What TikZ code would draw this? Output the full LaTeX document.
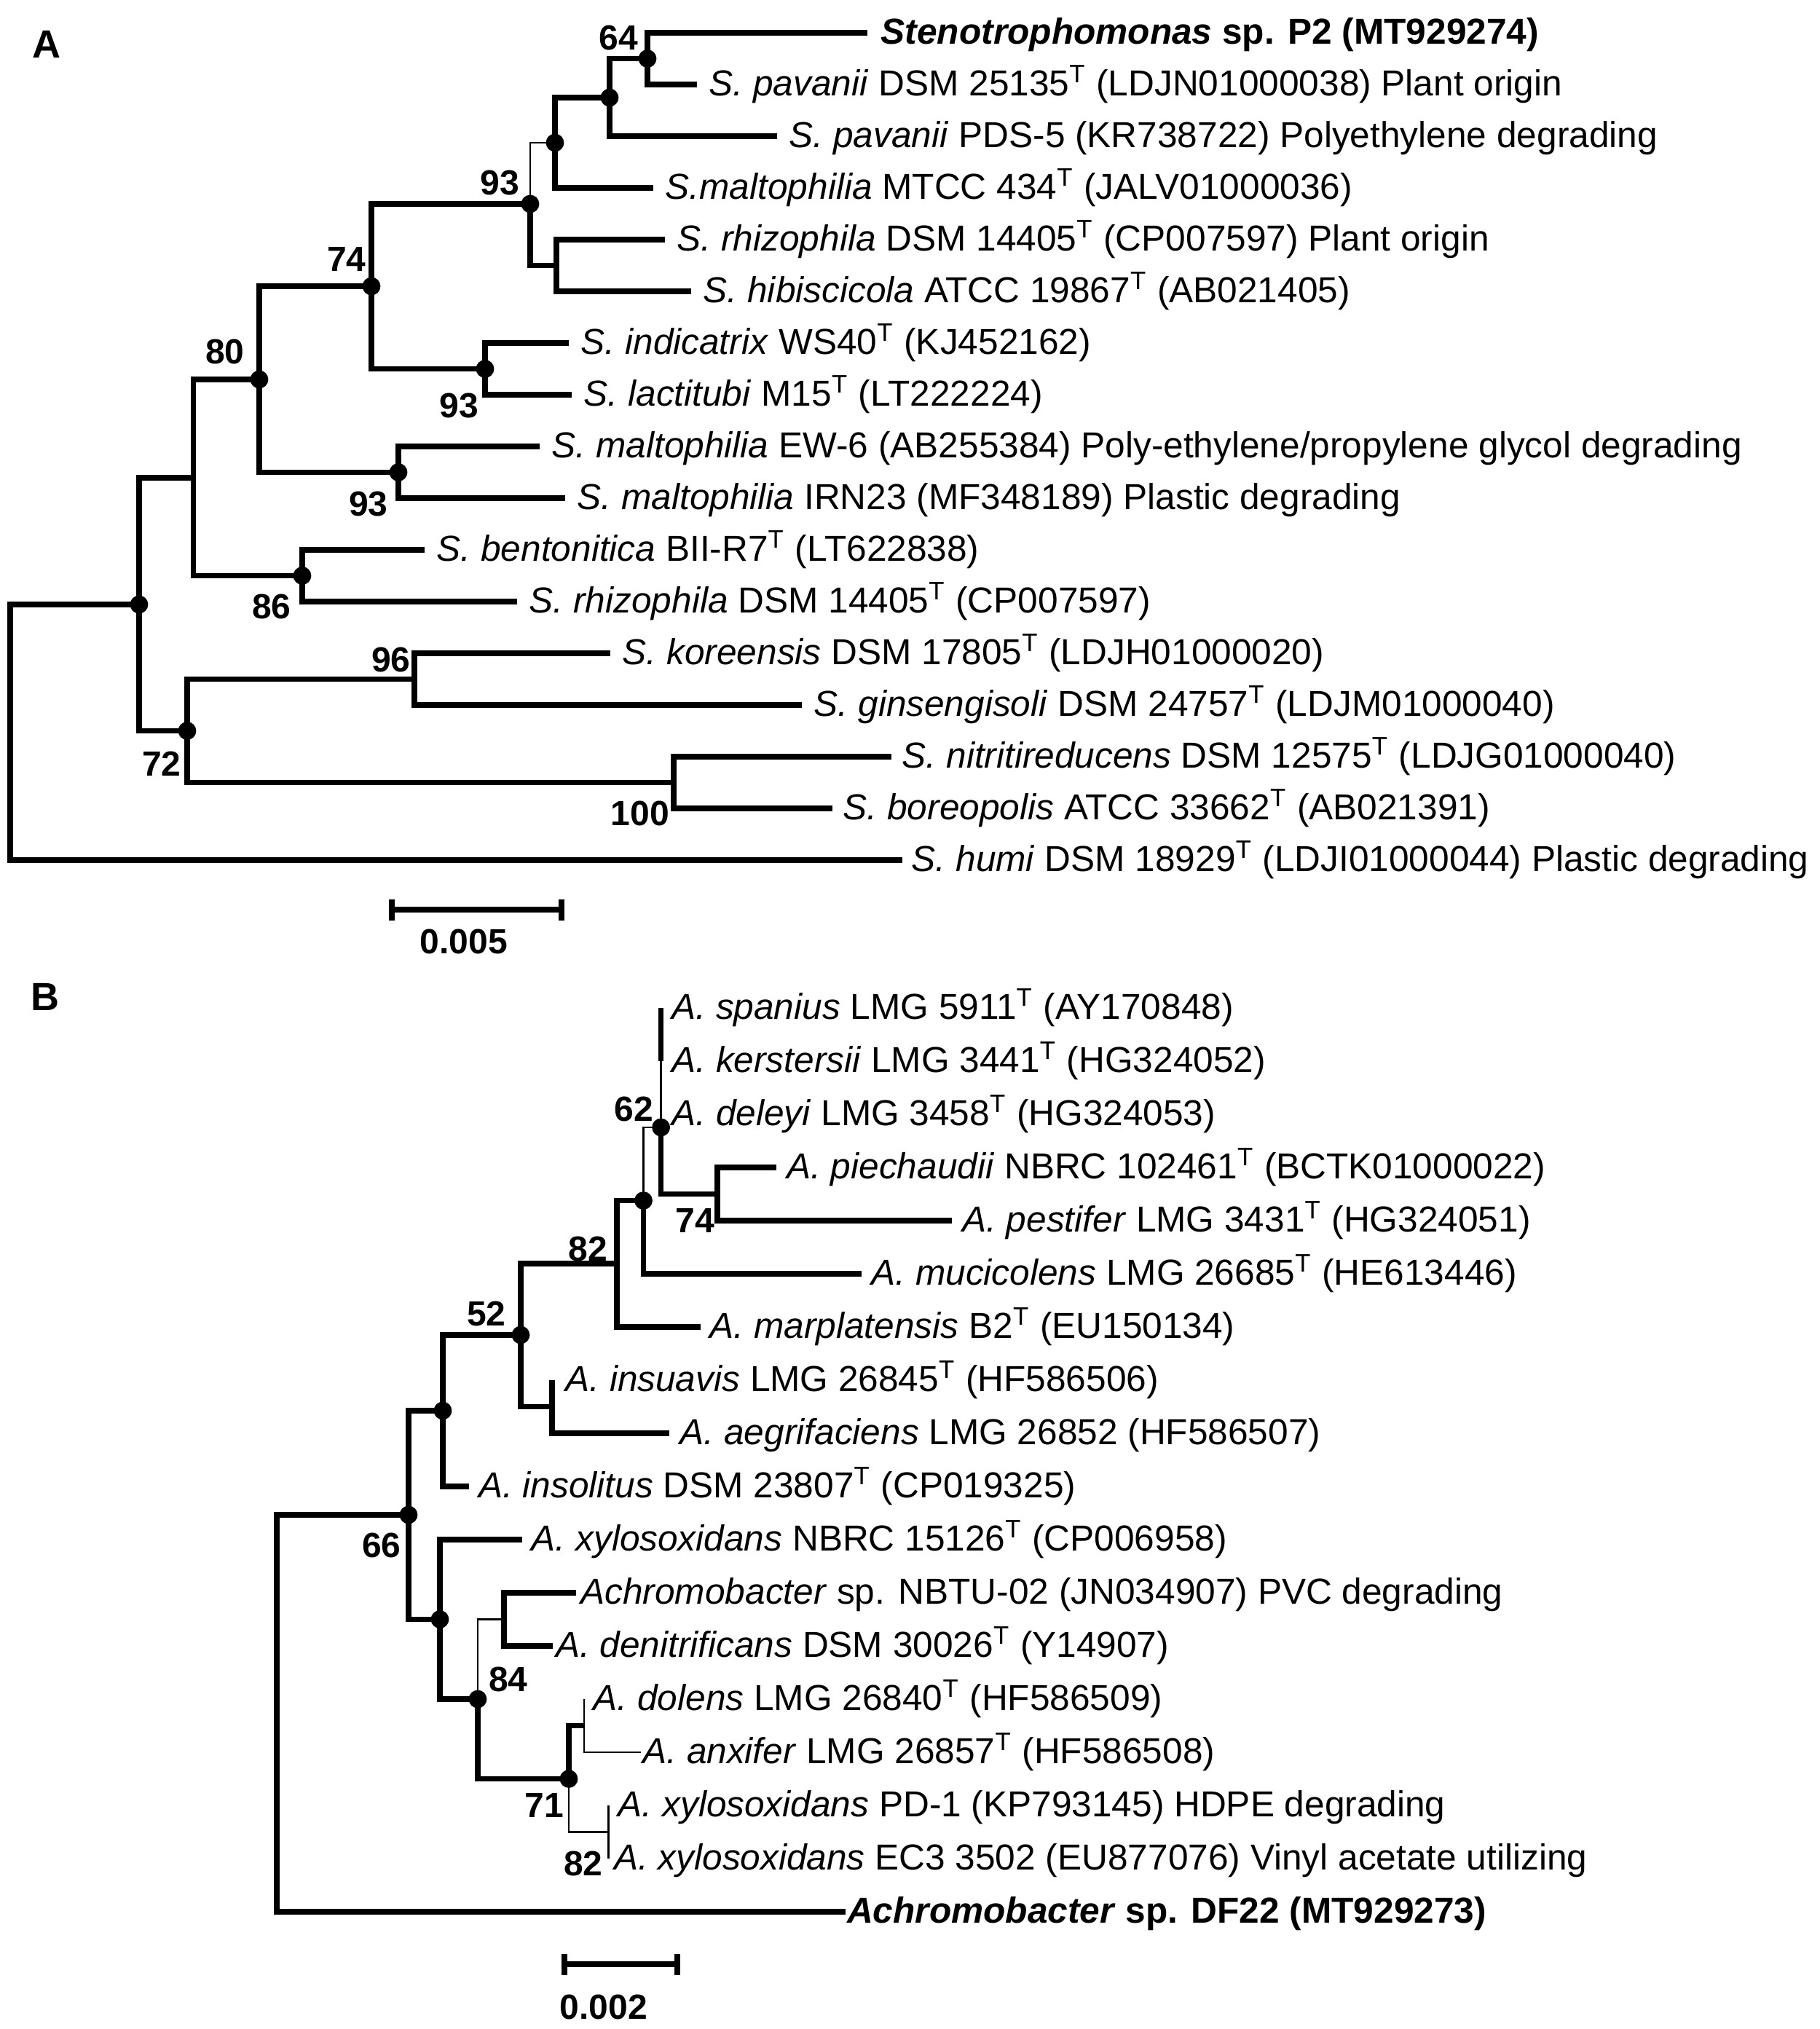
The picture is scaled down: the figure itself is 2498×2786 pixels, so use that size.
\documentclass[tikz,border=0pt]{standalone}
\usepackage{fontspec}
\setmainfont{Liberation Sans}
\usetikzlibrary{positioning}

\tikzset{
  br/.style={line width=1.8pt, line join=miter},
  thinbr/.style={line width=0.6pt, line join=miter},
  leaf/.style={inner sep=0pt, font=\fontsize{12.4}{14}\selectfont, text height=7.6pt, text depth=0pt},
  boot/.style={inner sep=0pt, font=\bfseries\fontsize{12}{14}\selectfont, text height=8.6pt, text depth=0pt},
  panel/.style={inner sep=0pt, font=\bfseries\fontsize{13.5}{16}\selectfont, text height=9.7pt, text depth=0pt},
  dot/.style={circle, fill, inner sep=0pt, minimum size=6.2pt},
}

\begin{document}
\begin{tikzpicture}[x=0.25pt, y=-0.25pt]
\useasboundingbox (0,0) rectangle (2498,2786);

\node (panel_a) at (64,60) [panel] {A};

\coordinate (a_n64) at (889,80.5);
\coordinate (a_pav) at (837,134);
\coordinate (a_mal) at (762,196);
\coordinate (a_n93a) at (728,280);
\coordinate (a_rhi) at (764,364.5);
\coordinate (a_n93b) at (666,506.5);
\coordinate (a_n74) at (510,393);
\coordinate (a_n93c) at (547,648.5);
\coordinate (a_n80) at (356,521);
\coordinate (a_n86) at (415,790.5);
\coordinate (a_mid) at (265.5,656);
\coordinate (a_n96) at (569,932.5);
\coordinate (a_n100) at (925,1074.5);
\coordinate (a_n72) at (257,1003.5);
\coordinate (a_in) at (191,830);
\coordinate (a_root) at (14,1005);

\coordinate (a_tip1) at (1191,45);
\coordinate (a_tip2) at (957,116);
\coordinate (a_tip3) at (1067,187);
\coordinate (a_tip4) at (897,258);
\coordinate (a_tip5) at (913,329);
\coordinate (a_tip6) at (949,400);
\coordinate (a_tip7) at (781,471);
\coordinate (a_tip8) at (785,542);
\coordinate (a_tip9) at (741,613);
\coordinate (a_tip10) at (776,684);
\coordinate (a_tip11) at (583,755);
\coordinate (a_tip12) at (710,826);
\coordinate (a_tip13) at (838,897);
\coordinate (a_tip14) at (1101,968);
\coordinate (a_tip15) at (1224,1039);
\coordinate (a_tip16) at (1143,1110);
\coordinate (a_tip17) at (1239,1181);

\node (a_txt1) at (a_tip1) [leaf, right=4.5pt] {\textbf{\textit{Stenotrophomonas} sp. P2 (MT929274)}};
\node (a_txt2) at (a_tip2) [leaf, right=4pt] {\textit{S. pavanii} DSM 25135\textsuperscript{T} (LDJN01000038) Plant origin};
\node (a_txt3) at (a_tip3) [leaf, right=4pt] {\textit{S. pavanii} PDS-5 (KR738722) Polyethylene degrading};
\node (a_txt4) at (a_tip4) [leaf, right=4pt] {\textit{S.maltophilia} MTCC 434\textsuperscript{T} (JALV01000036)};
\node (a_txt5) at (a_tip5) [leaf, right=4pt] {\textit{S. rhizophila} DSM 14405\textsuperscript{T} (CP007597) Plant origin};
\node (a_txt6) at (a_tip6) [leaf, right=4pt] {\textit{S. hibiscicola} ATCC 19867\textsuperscript{T} (AB021405)};
\node (a_txt7) at (a_tip7) [leaf, right=4pt] {\textit{S. indicatrix} WS40\textsuperscript{T} (KJ452162)};
\node (a_txt8) at (a_tip8) [leaf, right=4pt] {\textit{S. lactitubi} M15\textsuperscript{T} (LT222224)};
\node (a_txt9) at (a_tip9) [leaf, right=4pt] {\textit{S. maltophilia} EW-6 (AB255384) Poly-ethylene/propylene glycol degrading};
\node (a_txt10) at (a_tip10) [leaf, right=4pt] {\textit{S. maltophilia} IRN23 (MF348189) Plastic degrading};
\node (a_txt11) at (a_tip11) [leaf, right=4pt] {\textit{S. bentonitica} BII-R7\textsuperscript{T} (LT622838)};
\node (a_txt12) at (a_tip12) [leaf, right=4pt] {\textit{S. rhizophila} DSM 14405\textsuperscript{T} (CP007597)};
\node (a_txt13) at (a_tip13) [leaf, right=4pt] {\textit{S. koreensis} DSM 17805\textsuperscript{T} (LDJH01000020)};
\node (a_txt14) at (a_tip14) [leaf, right=4pt] {\textit{S. ginsengisoli} DSM 24757\textsuperscript{T} (LDJM01000040)};
\node (a_txt15) at (a_tip15) [leaf, right=3.5pt] {\textit{S. nitritireducens} DSM 12575\textsuperscript{T} (LDJG01000040)};
\node (a_txt16) at (a_tip16) [leaf, right=3.5pt] {\textit{S. boreopolis} ATCC 33662\textsuperscript{T} (AB021391)};
\node (a_txt17) at (a_tip17) [leaf, right=3pt] {\textit{S. humi} DSM 18929\textsuperscript{T} (LDJI01000044) Plastic degrading};

\draw [br] (a_tip1) -| (a_n64) |- (a_tip2);
\draw [br] (a_n64) -| (a_pav) |- (a_tip3);
\draw [br] (a_pav) -| (a_mal) |- (a_tip4);
\draw [thinbr] (a_mal) -| (a_n93a);
\draw [br] (a_n93a) |- (a_rhi);
\draw [br] (a_tip5) -| (a_rhi) |- (a_tip6);
\draw [br] (a_n93a) -| (a_n74) |- (a_n93b);
\draw [br] (a_tip7) -| (a_n93b) |- (a_tip8);
\draw [br] (a_n74) -| (a_n80) |- (a_n93c);
\draw [br] (a_tip9) -| (a_n93c) |- (a_tip10);
\draw [br] (a_n80) -| (a_mid) |- (a_n86);
\draw [br] (a_tip11) -| (a_n86) |- (a_tip12);
\draw [br] (a_mid) -| (a_in) |- (a_n72);
\draw [br] (a_n96) -| (a_n72) |- (a_n100);
\draw [br] (a_tip13) -| (a_n96) |- (a_tip14);
\draw [br] (a_tip15) -| (a_n100) |- (a_tip16);
\draw [br] (a_in) -| (a_root) |- (a_tip17);

\node (a_d64) at (a_n64) [dot] {};
\node (a_dpav) at (a_pav) [dot] {};
\node (a_dmal) at (a_mal) [dot] {};
\node (a_d93a) at (a_n93a) [dot] {};
\node (a_d74) at (a_n74) [dot] {};
\node (a_d93b) at (a_n93b) [dot] {};
\node (a_d80) at (a_n80) [dot] {};
\node (a_d93c) at (a_n93c) [dot] {};
\node (a_d86) at (a_n86) [dot] {};
\node (a_din) at (a_in) [dot] {};
\node (a_d72) at (a_n72) [dot] {};

\node (a_b64) at (849,51) [boot] {64};
\node (a_b93a) at (686,250) [boot] {93};
\node (a_b74) at (476,355) [boot] {74};
\node (a_b80) at (309,482) [boot] {80};
\node (a_b93b) at (630,556) [boot] {93};
\node (a_b93c) at (506,691) [boot] {93};
\node (a_b86) at (373,832) [boot] {86};
\node (a_b96) at (537,905) [boot] {96};
\node (a_b72) at (222,1048) [boot] {72};
\node (a_b100) at (879,1116) [boot] {100};

\coordinate (a_bar1) at (538,1249);
\coordinate (a_bar2) at (771,1249);
\draw [br] (a_bar1) -- (a_bar2);
\draw [br] (a_bar1) ++(0,-14.5) -- ++(0,29);
\draw [br] (a_bar2) ++(0,-14.5) -- ++(0,29);
\node (a_scale) at (637,1292) [boot] {0.005};

\node (panel_b) at (62,1368) [panel] {B};

\coordinate (b_z) at (907.6,1457);
\coordinate (b_n62) at (907.6,1548);
\coordinate (b_n74) at (985,1639.5);
\coordinate (b_muc) at (883.5,1648.5);
\coordinate (b_n82) at (847,1735);
\coordinate (b_ins) at (758,1931.5);
\coordinate (b_n52) at (715,1833);
\coordinate (b_iso) at (608,1937);
\coordinate (b_den) at (692,2223.5);
\coordinate (b_dol) at (802,2369.5);
\coordinate (b_n82b) at (835.6,2515.5);
\coordinate (b_n71) at (781,2442.5);
\coordinate (b_n84) at (656,2333);
\coordinate (b_xyl) at (604,2223.5);
\coordinate (b_n66) at (561,2080);
\coordinate (b_root) at (380,2352.5);

\coordinate (b_tip1) at (907.6,1384);
\coordinate (b_tip2) at (907.6,1457);
\coordinate (b_tip3) at (907.6,1530);
\coordinate (b_tip4) at (1065.5,1603);
\coordinate (b_tip5) at (1306.5,1676);
\coordinate (b_tip6) at (1183,1749);
\coordinate (b_tip7) at (962,1822);
\coordinate (b_tip8) at (758,1895);
\coordinate (b_tip9) at (919,1968);
\coordinate (b_tip10) at (644.4,2041);
\coordinate (b_tip11) at (717,2114);
\coordinate (b_tip12) at (791,2187);
\coordinate (b_tip13) at (759,2260);
\coordinate (b_tip14) at (802,2333);
\coordinate (b_tip15) at (880,2406);
\coordinate (b_tip16) at (835.6,2479);
\coordinate (b_tip17) at (835.6,2552);
\coordinate (b_tip18) at (1161,2625);

\node (b_txt1) at (b_tip1) [leaf, right=3.5pt] {\textit{A. spanius} LMG 5911\textsuperscript{T} (AY170848)};
\node (b_txt2) at (b_tip2) [leaf, right=3.5pt] {\textit{A. kerstersii} LMG 3441\textsuperscript{T} (HG324052)};
\node (b_txt3) at (b_tip3) [leaf, right=3.5pt] {\textit{A. deleyi} LMG 3458\textsuperscript{T} (HG324053)};
\node (b_txt4) at (b_tip4) [leaf, right=3.5pt] {\textit{A. piechaudii} NBRC 102461\textsuperscript{T} (BCTK01000022)};
\node (b_txt5) at (b_tip5) [leaf, right=3.5pt] {\textit{A. pestifer} LMG 3431\textsuperscript{T} (HG324051)};
\node (b_txt6) at (b_tip6) [leaf, right=3.2pt] {\textit{A. mucicolens} LMG 26685\textsuperscript{T} (HE613446)};
\node (b_txt7) at (b_tip7) [leaf, right=3pt] {\textit{A. marplatensis} B2\textsuperscript{T} (EU150134)};
\node (b_txt8) at (b_tip8) [leaf, right=4.4pt] {\textit{A. insuavis} LMG 26845\textsuperscript{T} (HF586506)};
\node (b_txt9) at (b_tip9) [leaf, right=3.5pt] {\textit{A. aegrifaciens} LMG 26852 (HF586507)};
\node (b_txt10) at (b_tip10) [leaf, right=3pt] {\textit{A. insolitus} DSM 23807\textsuperscript{T} (CP019325)};
\node (b_txt11) at (b_tip11) [leaf, right=3pt] {\textit{A. xylosoxidans} NBRC 15126\textsuperscript{T} (CP006958)};
\node (b_txt12) at (b_tip12) [leaf, right=1.4pt] {\textit{Achromobacter} sp. NBTU-02 (JN034907) PVC degrading};
\node (b_txt13) at (b_tip13) [leaf, right=0.8pt] {\textit{A. denitrificans} DSM 30026\textsuperscript{T} (Y14907)};
\node (b_txt14) at (b_tip14) [leaf, right=3pt] {\textit{A. dolens} LMG 26840\textsuperscript{T} (HF586509)};
\node (b_txt15) at (b_tip15) [leaf, right=0.4pt] {\textit{A. anxifer} LMG 26857\textsuperscript{T} (HF586508)};
\node (b_txt16) at (b_tip16) [leaf, right=3.1pt] {\textit{A. xylosoxidans} PD-1 (KP793145) HDPE degrading};
\node (b_txt17) at (b_tip17) [leaf, right=1.7pt] {\textit{A. xylosoxidans} EC3 3502 (EU877076) Vinyl acetate utilizing};
\node (b_txt18) at (b_tip18) [leaf, right=0.3pt] {\textbf{\textit{Achromobacter} sp. DF22 (MT929273)}};

\draw [br] (b_tip1) -- (b_z);
\draw [thinbr] (b_z) -- (b_n62);
\draw [br] (b_n62) |- (b_n74);
\draw [br] (b_tip4) -| (b_n74) |- (b_tip5);
\draw [thinbr] (b_n62) -| (b_muc);
\draw [br] (b_muc) |- (b_tip6);
\draw [br] (b_muc) -| (b_n82) |- (b_tip7);
\draw [br] (b_n82) -| (b_n52) |- (b_ins);
\draw [br] (b_tip8) -- (b_ins) |- (b_tip9);
\draw [br] (b_n52) -| (b_iso) |- (b_tip10);
\draw [br] (b_iso) -| (b_n66) |- (b_xyl);
\draw [br] (b_tip11) -| (b_xyl) |- (b_n84);
\draw [thinbr] (b_den) -| (b_n84);
\draw [br] (b_tip12) -| (b_den) |- (b_tip13);
\draw [br] (b_n84) |- (b_n71);
\draw [br] (b_dol) -| (b_n71);
\draw [thinbr] (b_tip14) -- (b_dol) |- (b_tip15);
\draw [thinbr] (b_n71) |- (b_n82b);
\draw [thinbr] (b_tip16) -- (b_tip17);
\draw [br] (b_n66) -| (b_root) |- (b_tip18);

\node (b_d62) at (b_n62) [dot] {};
\node (b_dmuc) at (b_muc) [dot] {};
\node (b_d52) at (b_n52) [dot] {};
\node (b_diso) at (b_iso) [dot] {};
\node (b_d66) at (b_n66) [dot] {};
\node (b_dxyl) at (b_xyl) [dot] {};
\node (b_d84) at (b_n84) [dot] {};
\node (b_d71) at (b_n71) [dot] {};

\node (b_b62) at (870,1522) [boot] {62};
\node (b_b74) at (954,1675) [boot] {74};
\node (b_b82) at (807,1714) [boot] {82};
\node (b_b52) at (668,1803) [boot] {52};
\node (b_b66) at (524,2121) [boot] {66};
\node (b_b84) at (698,2305) [boot] {84};
\node (b_b71) at (747,2478) [boot] {71};
\node (b_b82b) at (801,2558) [boot] {82};

\coordinate (b_bar1) at (775,2697);
\coordinate (b_bar2) at (930,2697);
\draw [br] (b_bar1) -- (b_bar2);
\draw [br] (b_bar1) ++(0,-14.5) -- ++(0,29);
\draw [br] (b_bar2) ++(0,-14.5) -- ++(0,29);
\node (b_scale) at (829,2755) [boot] {0.002};

\end{tikzpicture}
\end{document}
